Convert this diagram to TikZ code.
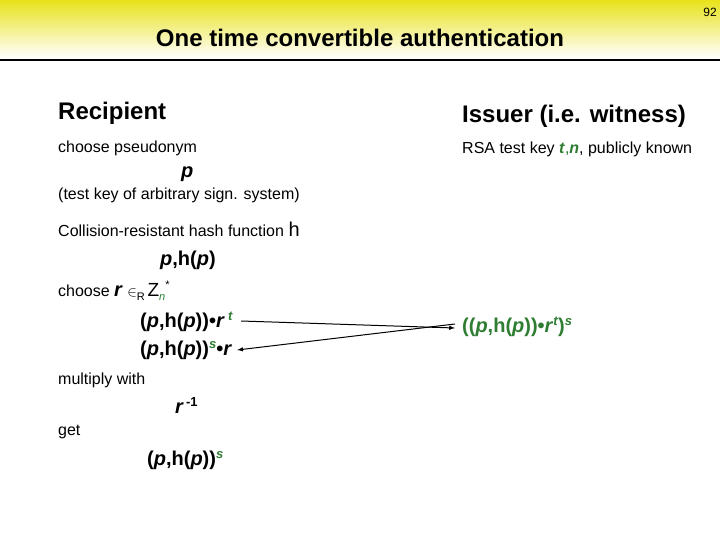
\documentclass[tikz,border=0pt]{standalone}
\usepackage{fontspec}
\setmainfont{Liberation Sans}
\definecolor{hdr}{HTML}{E8E21A}
\definecolor{grn}{HTML}{2E7D32}
\newcommand{\sups}[1]{\raisebox{7pt}{\fontsize{13}{14}\selectfont\bfseries #1}}
\begin{document}
\begin{tikzpicture}[x=1pt,y=-1pt,
  txt/.style={anchor=west,inner sep=0pt,font=\fontsize{16}{19}\selectfont},
  big/.style={anchor=west,inner sep=0pt,font=\fontsize{20}{24}\selectfont\bfseries},
  head/.style={anchor=west,inner sep=0pt,font=\fontsize{24}{28}\selectfont\bfseries},
  msg/.style={-latex,line width=1pt}]
\useasboundingbox (0,0) rectangle (720,540);
\fill[white] (0,0) rectangle (720,540);
\shade[top color=hdr,bottom color=white] (0,0) rectangle (720,58);
\draw[line width=2pt] (0,60) -- (720,60);
\node[anchor=east,inner sep=0pt,font=\fontsize{12}{14}\selectfont] (pg) at (717,12) {92};
\node[inner sep=0pt,font=\fontsize{24}{28}\selectfont\bfseries] (title) at (360,38) {One time convertible authentication};
\node[head] (rec) at (58,113) {Recipient};
\node[head] (iss) at (462,116) {Issuer (i.e. witness)};
\node[txt] (cp) at (58,148) {choose pseudonym};
\node[txt] (rsa) at (462,149) {RSA test key \textcolor{grn}{\textbf{\textit{t}},\textbf{\textit{n}}}, publicly known};
\node[big] (p) at (181,174) {\textit{p}};
\node[txt] (tk) at (58,195) {(test key of arbitrary sign. system)};
\node[txt] (crh) at (58,229) {Collision-resistant hash function {\fontsize{20}{24}\selectfont h}};
\node[big] (php) at (160,260) {\textit{p},h(\textit{p})};
\node[txt] (cr) at (58,291) {choose {\fontsize{20}{24}\selectfont\bfseries\textit{r}} {\fontsize{14}{16}\selectfont$\in$}\raisebox{-4pt}{\fontsize{11}{12}\selectfont R}\,{\fontsize{19}{22}\selectfont Z}\raisebox{-4pt}{\fontsize{11}{12}\selectfont\textcolor{grn}{\textit{n}}}\raisebox{8pt}{\fontsize{11}{12}\selectfont *}};
\node[big] (m1) at (140,322) {(\textit{p},h(\textit{p}))\textbullet\textit{r}\,\sups{\textcolor{grn}{\textit{t}}}};
\node[big] (m2) at (140,350) {(\textit{p},h(\textit{p}))\sups{\textcolor{grn}{\textit{s}}}\textbullet\textit{r}};
\node[big,text=grn] (m3) at (462,327) {((\textit{p},h(\textit{p}))\textbullet\textit{r}\sups{\textit{t}})\sups{\textit{s}}};
\draw[msg] ([xshift=8pt,yshift=1pt]m1.east) -- ([xshift=-7pt,yshift=-1pt]m3.west);
\draw[msg] ([xshift=-7pt,yshift=3pt]m3.west) -- ([xshift=5pt]m2.east);
\node[txt] (mw) at (58,380) {multiply with};
\node[big] (ri) at (175,406) {\textit{r}\sups{\,-1}};
\node[txt] (get) at (58,432) {get};
\node[big] (res) at (147,460) {(\textit{p},h(\textit{p}))\sups{\textcolor{grn}{\textit{s}}}};
\end{tikzpicture}
\end{document}
